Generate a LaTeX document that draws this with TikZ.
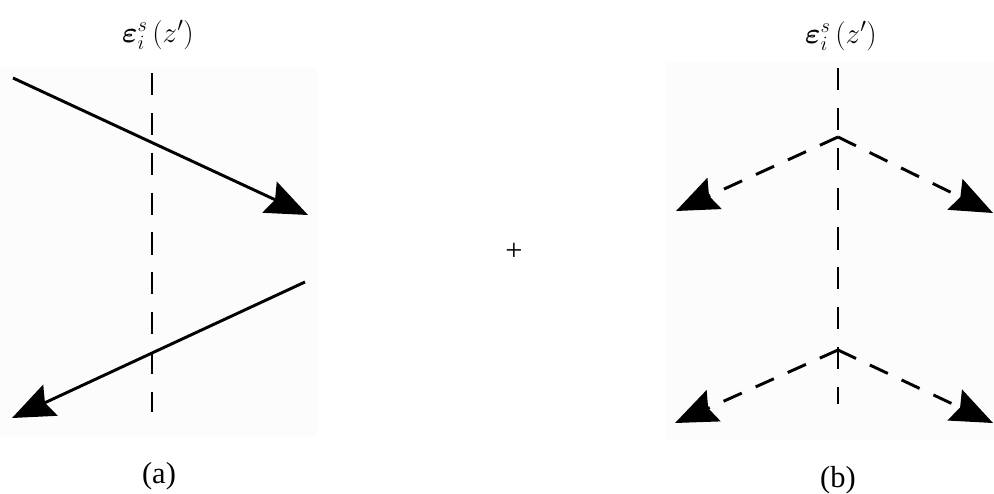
\documentclass[tikz,border=0pt]{standalone}
\usepackage{amsmath}
\usepackage{bm}
\usepackage{fontspec}
\setmainfont{Liberation Serif}
\usetikzlibrary{arrows.meta}
\definecolor{panelgrey}{HTML}{FCFCFC}
\tikzset{
  ray/.style={-{Stealth[length=36pt, width=29pt, inset=5pt]}, line width=2.5pt},
  dashray/.style={ray, dash pattern=on 17pt off 13pt},
  axis/.style={line width=2.5pt, dash pattern=on 19pt off 15pt},
  panel/.style={fill=panelgrey, draw=none},
  lbl/.style={font=\fontsize{25}{30}\selectfont, inner sep=0pt},
  captxt/.style={font=\fontsize{26}{30}\selectfont, inner sep=0pt}
}
\begin{document}
\begin{tikzpicture}[x=0.03cm, y=-0.03cm]
  \useasboundingbox (0,0) rectangle (994,493);
  \fill[panel] (0,68) rectangle (318,436);
  \fill[panel] (667,62) rectangle (994,440);
  % (a)
  \node[lbl] (epsA) at (158,35) {$\bm{\varepsilon}_{i}^{s}\left(z'\right)$};
  \coordinate (axAtop) at (152,73);
  \coordinate (axAbot) at (152,412);
  \coordinate (inA) at (13,78);
  \coordinate (outA) at (308,215);
  \coordinate (inB) at (305,282);
  \coordinate (outB) at (12,418);
  \draw[axis] (axAtop) -- (axAbot);
  \draw[ray] (inA) -- (outA);
  \draw[ray] (inB) -- (outB);
  \node[captxt] (capA) at (159,476) {(a)};
  \node[captxt] (plus) at (514,252) {+};
  % (b)
  \node[lbl] (epsB) at (841,36) {$\bm{\varepsilon}_{i}^{s}\left(z'\right)$};
  \coordinate (axBtop) at (838,68);
  \coordinate (axBbot) at (838,404);
  \coordinate (upV) at (838,137);
  \coordinate (upL) at (676,211);
  \coordinate (upR) at (993,213);
  \coordinate (loV) at (838,350);
  \coordinate (loL) at (675,423);
  \coordinate (loR) at (993,423);
  \draw[axis] (axBtop) -- (axBbot);
  \draw[dashray] (upV) -- (upL);
  \draw[dashray] (upV) -- (upR);
  \draw[dashray] (loV) -- (loL);
  \draw[dashray] (loV) -- (loR);
  \node[captxt] (capB) at (838,480) {(b)};
\end{tikzpicture}
\end{document}
